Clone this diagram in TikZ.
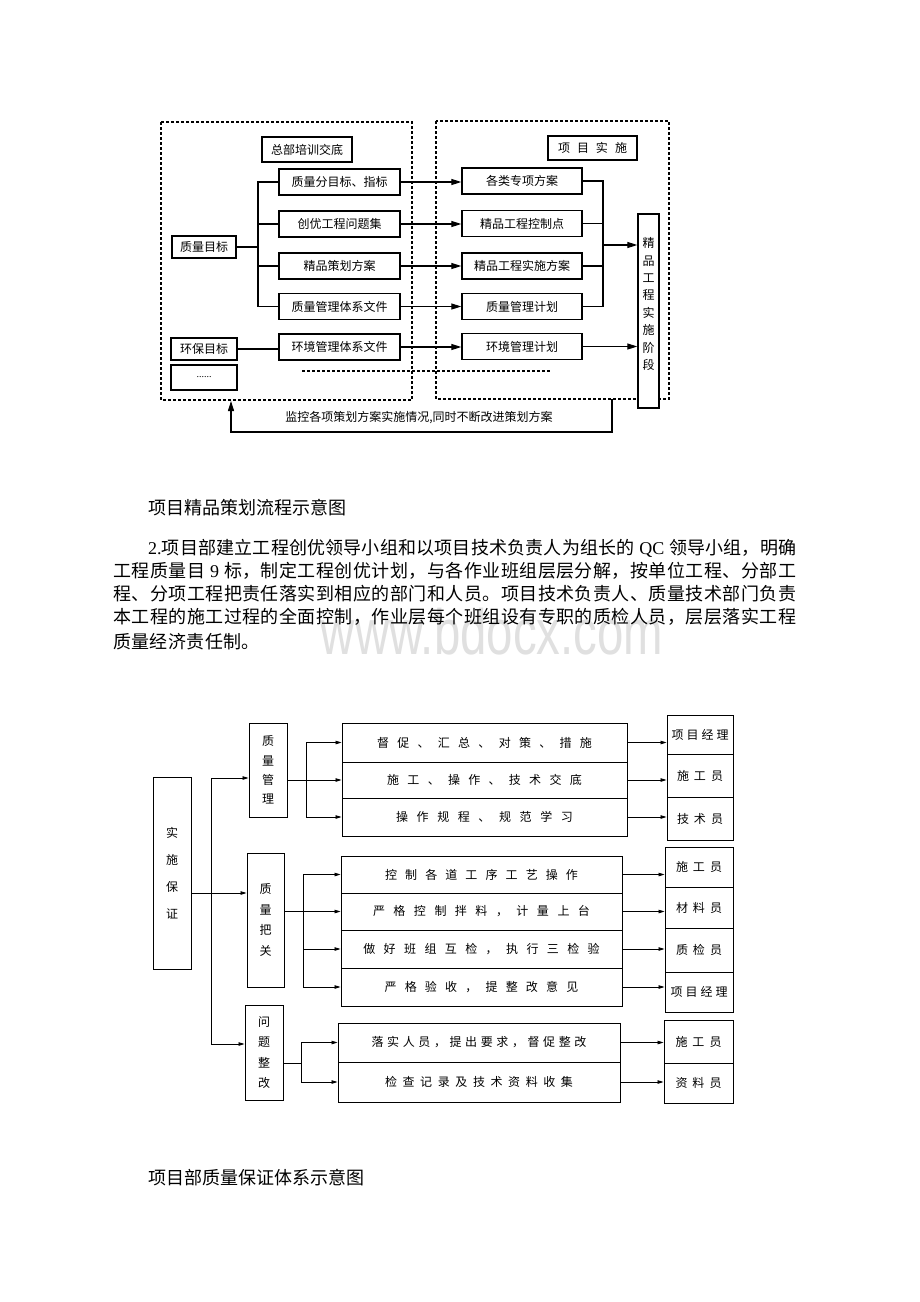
\documentclass[tikz,border=0pt]{standalone}
\usepackage{fontspec}
\setmainfont{Noto Sans CJK SC}
\newfontfamily\tnr{Liberation Serif}
\newfontfamily\wmfont{Liberation Sans}
\usetikzlibrary{arrows.meta}
\makeatletter
\newcommand\spc[2]{\def\spc@g{#1}\@tfor\spc@c:=#2\do{{\spc@c}\hskip\spc@g\relax}\unskip}
\makeatother
\newcommand\jline[2]{\makebox[#1][s]{\spc{0pt plus 1fil}{#2}}}
\begin{document}
\begin{tikzpicture}[x=1pt,y=-1pt,
  sz/.style n args={2}{minimum width=#1pt,minimum height=#2pt},
  tbox/.style={draw,line width=1.3pt,inner sep=0pt,fill=white,font=\fontsize{12}{14}\selectfont},
  dbox/.style={draw,line width=1.2pt,dash pattern=on 3pt off 2pt},
  tline/.style={line width=1.1pt},
  tarr/.style={line width=1.1pt,-{Triangle[length=10pt,width=6pt]}},
  bbox/.style={draw,line width=0.9pt,inner sep=0pt,font=\fontsize{12}{14}\selectfont},
  vtxt/.style={align=center,font=\fontsize{12}{#1}\selectfont},
  bline/.style={line width=0.8pt},
  barr/.style={line width=0.8pt,-{Triangle[length=6pt,width=3.5pt]}},
  ptext/.style={anchor=west,inner sep=0pt,font=\fontsize{18}{20}\selectfont},
]
\useasboundingbox (0,0) rectangle (920,1302);
\fill[white] (0,0) rectangle (920,1302);

% watermark
\node[anchor=base,inner sep=0pt,text=black!12,font=\wmfont\fontsize{64}{64}\selectfont] (wm) at (492,654) {\scalebox{0.74}[1]{www.bdocx.com}};

% ===== top diagram =====
\draw[dbox] (161,122) rectangle (412,400);
\draw[dbox] (436,121) rectangle (669,399);
\draw[dbox,line width=1.1pt] (302,371) -- (550,371);

\node[tbox,sz={90}{25}] (zbpx) at (307,149.5) {总部培训交底};
\node[tbox,sz={121}{26}] (b1) at (339.5,182) {质量分目标、指标};
\node[tbox,sz={121}{26}] (b2) at (339.5,224) {创优工程问题集};
\node[tbox,sz={121}{26}] (b3) at (339.5,266) {精品策划方案};
\node[tbox,sz={121}{26}] (b4) at (339.5,306.5) {质量管理体系文件};
\node[tbox,sz={121}{26}] (b5) at (339.5,347) {环境管理体系文件};
\node[tbox,sz={64}{22}] (zlmb) at (204,247) {质量目标};
\node[tbox,sz={66}{22}] (hbmb) at (204,349) {环保目标};
\node[tbox,sz={66}{25}] (dots) at (204,377.5) {\tnr\fontsize{10}{12}\selectfont ......};

\node[tbox,sz={120}{26}] (r1) at (522,181) {各类专项方案};
\node[tbox,sz={120}{26}] (r2) at (522,223.5) {精品工程控制点};
\node[tbox,sz={120}{26}] (r3) at (522,266) {精品工程实施方案};
\node[tbox,sz={120}{26}] (r4) at (522,306.5) {质量管理计划};
\node[tbox,sz={120}{26}] (r5) at (522,346.5) {环境管理计划};
\node[tbox,sz={89}{24}] (xmss) at (592.5,148) {\spc{7pt}{项目实施}};
\node[tbox,sz={21}{194}] (jp) at (648.5,311) {};
\node[vtxt=17.4,inner sep=0pt] (jpt) at (648.5,304) {精\\品\\工\\程\\实\\施\\阶\\段};

\coordinate (trk) at (258,0);
\draw[tline] (zlmb.east) -- (zlmb.east -| trk);
\draw[tline] (b1.west) -| (trk |- b4.west) -- (b4.west);
\draw[tline] (b2.west) -- (b2.west -| trk);
\draw[tline] (b3.west) -- (b3.west -| trk);
\draw[tline] (hbmb.east) -- (hbmb.east -| b5.west);
\foreach \i in {1,...,5} {\draw[tarr] (b\i.east) -- (b\i.east -| r\i.west);}
\coordinate (mg) at (603,245);
\draw[tline] (r1.east) -| (mg |- r4.east) -- (r4.east);
\draw[tline] (r2.east) -- (r2.east -| mg);
\draw[tline] (r3.east) -- (r3.east -| mg);
\draw[tarr] (mg) -- (mg -| jp.west);
\draw[tarr] (r5.east) -- (r5.east -| jp.west);
\coordinate (fb0) at (612,399);
\coordinate (fb1) at (612,432);
\coordinate (fbend) at (231,401);
\draw[tarr] (fb0) -- (fb1) -| (fbend);
\node[inner sep=0pt,font=\fontsize{12}{14}\selectfont] (fbl) at (419,418) {监控各项策划方案实施情况,同时不断改进策划方案};

% ===== captions and paragraph =====
\node[ptext] (cap1) at (148,508) {项目精品策划流程示意图};
\node[ptext] (p1) at (148,548) {\jline{648pt}{{\tnr 2.}项目部建立工程创优领导小组和以项目技术负责人为组长的{\tnr\ QC\ }领导小组，明确}};
\node[ptext] (p2) at (113,571) {\jline{683pt}{工程质量目{\tnr\ 9\ }标，制定工程创优计划，与各作业班组层层分解，按单位工程、分部工}};
\node[ptext] (p3) at (113,594) {\jline{683pt}{程、分项工程把责任落实到相应的部门和人员。项目技术负责人、质量技术部门负责}};
\node[ptext] (p4) at (113,617) {\jline{683pt}{本工程的施工过程的全面控制，作业层每个班组设有专职的质检人员，层层落实工程}};
\node[ptext] (p5) at (113,642) {\spc{0.4pt}{质量经济责任制。}};
\node[ptext] (cap2) at (148,1178) {项目部质量保证体系示意图};

% ===== bottom diagram =====
\node[bbox,sz={38}{192},vtxt=27] (ssbz) at (172,873) {实\\施\\保\\证};
\node[bbox,sz={38}{94},vtxt=19.3] (zlgl) at (268,770) {质\\量\\管\\理};
\node[bbox,sz={37}{134},vtxt=20.7] (zlbg) at (265.5,920) {质\\量\\把\\关};
\node[bbox,sz={38}{95},vtxt=20.3] (wtzg) at (264,1052.5) {问\\题\\整\\改};

\node[bbox,sz={285}{39}] (a1) at (484.5,742.5) {\spc{8.3pt}{督促、汇总、对策、措施}};
\node[bbox,sz={285}{36}] (a2) at (484.5,780) {\spc{8.3pt}{施工、操作、技术交底}};
\node[bbox,sz={285}{38}] (a3) at (484.5,817) {\spc{8.6pt}{操作规程、规范学习}};
\node[bbox,sz={66}{39}] (m1) at (700,734.5) {\spc{3pt}{项目经理}};
\node[bbox,sz={66}{43}] (m2) at (700,775.5) {\spc{5pt}{施工员}};
\node[bbox,sz={66}{43}] (m3) at (700,818.5) {\spc{5pt}{技术员}};

\node[bbox,sz={281}{37}] (c1) at (481.5,874.5) {\spc{8.1pt}{控制各道工序工艺操作}};
\node[bbox,sz={281}{37}] (c2) at (481.5,911.5) {\spc{8.5pt}{严格控制拌料，计量上台}};
\node[bbox,sz={281}{38}] (c3) at (481.5,949) {\spc{8.4pt}{做好班组互检，执行三检验}};
\node[bbox,sz={281}{38}] (c4) at (481.5,987) {\spc{8.2pt}{严格验收，提整改意见}};
\node[bbox,sz={68}{40}] (n1) at (699,867) {\spc{5pt}{施工员}};
\node[bbox,sz={68}{41}] (n2) at (699,907.5) {\spc{5pt}{材料员}};
\node[bbox,sz={68}{44}] (n3) at (699,950) {\spc{5pt}{质检员}};
\node[bbox,sz={68}{40}] (n4) at (699,992) {\spc{3pt}{项目经理}};

\node[bbox,sz={282}{39}] (d1) at (479,1042.5) {\spc{3.6pt}{落实人员，提出要求，督促整改}};
\node[bbox,sz={282}{40}] (d2) at (479,1082) {\spc{5.6pt}{检查记录及技术资料收集}};
\node[bbox,sz={69}{43}] (q1) at (698.5,1041.5) {\spc{5pt}{施工员}};
\node[bbox,sz={69}{40}] (q2) at (698.5,1083) {\spc{5pt}{资料员}};

\coordinate (h1) at (0,893);
\coordinate (h2) at (0,778);
\coordinate (h3) at (0,1044);
\coordinate (h4) at (0,1063);
\coordinate (tk) at (211,893);
\coordinate (v1) at (306,0);
\coordinate (v2) at (303,0);
\coordinate (v3) at (301,0);
\draw[barr] (ssbz.east |- h1) -- (zlbg.west |- h1);
\draw[barr] (tk) |- (zlgl.west |- h2);
\draw[barr] (tk) |- (wtzg.west |- h3);

\draw[barr] (zlgl.east |- a2.west) -- (a2.west);
\draw[barr] (a2.west -| v1) |- (a1.west);
\draw[barr] (a2.west -| v1) |- (a3.west);
\draw[barr] (zlbg.east |- c2.west) -- (c2.west);
\draw[barr] (c2.west -| v2) |- (c1.west);
\draw[barr] (c2.west -| v2) |- (c4.west);
\draw[barr] (c3.west -| v2) -- (c3.west);
\draw[bline] (wtzg.east |- h4) -- (v3 |- h4);
\draw[barr] (v3 |- h4) |- (d1.west);
\draw[barr] (v3 |- h4) |- (d2.west);

\foreach \s/\t in {a1/m1,a2/m2,a3/m3,c1/n1,c2/n2,c3/n3,c4/n4,d1/q1,d2/q2}
  {\draw[barr] (\s.east) -- (\s.east -| \t.west);}
\end{tikzpicture}
\end{document}
